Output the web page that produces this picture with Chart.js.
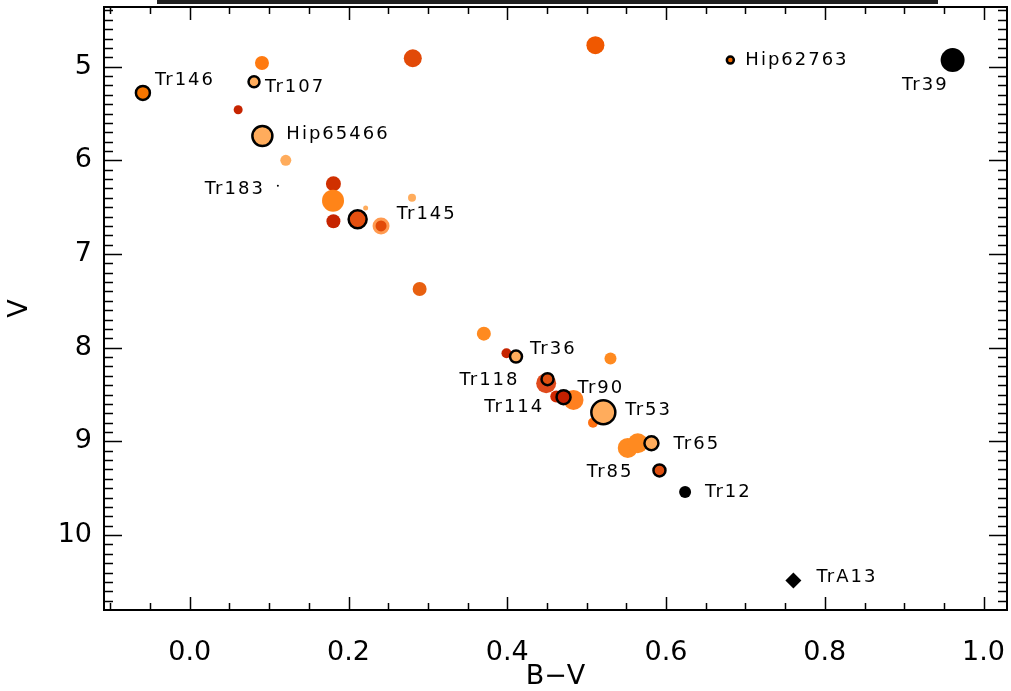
<!DOCTYPE html>
<html>
<head>
<meta charset="utf-8">
<script src="https://cdn.jsdelivr.net/npm/chart.js@4.4.0/dist/chart.umd.min.js"></script>
<style>
  body { margin: 0; background: #fff; }
  #wrap { position: relative; width: 1011px; height: 691px; }
  #bar { position: absolute; left: 157px; top: 0; width: 781px; height: 4px; background: #222; }
</style>
</head>
<body>
<div id="wrap">
  <canvas id="chart" width="1011" height="691"></canvas>
  <div id="bar"></div>
</div>
<script>
// B-V colour and V magnitude of each star
const bv = [0.091, 0.281, 0.511, 0.681, 0.961, -0.059, 0.081, 0.061, 0.0915, 0.121,
            0.111, 0.181, 0.1805, 0.181, 0.2216, 0.241, 0.2115, 0.280, 0.2896, 0.3705,
            0.399, 0.411, 0.530, 0.449, 0.4507, 0.4834, 0.4617, 0.4709, 0.508, 0.521,
            0.5518, 0.5644, 0.5816, 0.5917, 0.624, 0.7604];
const vmag = [4.96, 4.91, 4.77, 4.93, 4.93, 5.28, 5.16, 5.46, 5.74, 6.00,
              6.27, 6.25, 6.43, 6.65, 6.51, 6.70, 6.63, 6.40, 7.373, 7.85,
              8.06, 8.095, 8.116, 8.38, 8.336, 8.557, 8.52, 8.528, 8.80, 8.689,
              9.07, 9.02, 9.02, 9.31, 9.54, 10.486];
const names = ['', '', '', 'Hip62763', 'Tr39', 'Tr146', 'Tr107', '', 'Hip65466', '',
               'Tr183', '', '', '', '', '', 'Tr145', '', '', '',
               '', 'Tr36', '', '', 'Tr118', '', 'Tr114', 'Tr90', '', 'Tr53',
               '', '', 'Tr65', 'Tr85', 'Tr12', 'TrA13'];
const xTicks = [0.0, 0.2, 0.4, 0.6, 0.8, 1.0];
const yTicks = [5, 6, 7, 8, 9, 10];

// marker styles
const DR = '#c62400', RO = '#e24a08', OR = '#ff7a10', LO = '#ffac5c', BK = '#000000';
const fill = [OR, RO, '#f05800', '#f06a00', BK, '#f57500', LO, DR, LO, LO,
              BK, '#d03000', '#ff8418', DR, LO, RO, '#e65010', LO, '#e86010', '#ff8a20',
              DR, LO, '#ff8a20', '#e04a1c', '#e05010', '#ff8020', '#d02800', '#c42000', '#ff7010', LO,
              '#ff8a20', '#ff8a20', LO, '#e05010', BK, BK];
const size = [7, 9, 9, 3.5, 12, 7, 5.5, 4.5, 10, 5.5,
              1, 7.5, 11, 7, 2.5, 7, 9, 4, 7, 7,
              5, 6, 6, 10, 6, 10, 6, 7, 5, 12,
              10, 10, 7, 6, 6, 8];
const outlined = [0, 0, 0, 1, 0, 1, 1, 0, 1, 0,
                  0, 0, 0, 0, 0, 0, 1, 0, 0, 0,
                  0, 1, 0, 0, 1, 0, 0, 1, 0, 1,
                  0, 0, 1, 1, 0, 0];
const edge = fill.map((c, i) => outlined[i] ? '#000' : (i === 15 ? '#ff9a50' : c));
const edgeWidth = fill.map((c, i) => outlined[i] ? 2.5 : (i === 15 ? 3 : 0));
const shape = fill.map((c, i) => i === 35 ? 'rectRot' : 'circle');

// label placement relative to the marker
const labelDx = {Hip62763: 15, Tr39: -4, Tr146: 12, Tr107: 11, Hip65466: 24, Tr183: -13, Tr145: 39,
                 Tr36: 14, Tr118: -28, Tr114: -12, Tr90: 14, Tr53: 22, Tr65: 22, Tr85: -26, Tr12: 20, TrA13: 23};
const labelDy = {Hip62763: 0, Tr39: 25, Tr146: -13, Tr107: 6, Hip65466: -2, Tr183: 4, Tr145: -5,
                 Tr36: -7, Tr118: 1, Tr114: 11, Tr90: -9, Tr53: -2, Tr65: 1, Tr85: 2, Tr12: 0, TrA13: -3};
const rightAligned = ['Tr39', 'Tr183', 'Tr118', 'Tr114', 'Tr85'];

const points = bv.map((x, i) => ({x: x, y: vmag[i]}));

const frameTicks = {
  id: 'frameTicks',
  afterDraw(chart) {
    const {ctx, chartArea: a, scales: {x, y}} = chart;
    ctx.save();
    ctx.strokeStyle = '#000';
    ctx.lineWidth = 2;
    ctx.strokeRect(a.left, a.top, a.right - a.left, a.bottom - a.top);
    ctx.lineWidth = 1.5;
    ctx.beginPath();
    for (let i = -2; i <= 20; i++) {
      const px = Math.round(x.getPixelForValue(i * 0.05)) + 0.5;
      if (px < a.left || px > a.right) continue;
      const len = i % 4 === 0 ? 13 : 7;
      ctx.moveTo(px, a.bottom); ctx.lineTo(px, a.bottom - len);
      ctx.moveTo(px, a.top); ctx.lineTo(px, a.top + len);
    }
    for (let i = 44; i <= 108; i++) {
      const py = Math.round(y.getPixelForValue(i / 10)) + 0.5;
      if (py < a.top || py > a.bottom) continue;
      const len = i % 10 === 0 ? 18 : 9;
      ctx.moveTo(a.left, py); ctx.lineTo(a.left + len, py);
      ctx.moveTo(a.right, py); ctx.lineTo(a.right - len, py);
    }
    ctx.stroke();
    ctx.restore();
  }
};

const starLabels = {
  id: 'starLabels',
  afterDatasetsDraw(chart) {
    const ctx = chart.ctx;
    const meta = chart.getDatasetMeta(0);
    ctx.save();
    ctx.font = '18px "DejaVu Sans"';
    ctx.letterSpacing = '2px';
    ctx.fillStyle = '#000';
    ctx.textBaseline = 'middle';
    names.forEach((n, i) => {
      if (!n) return;
      const el = meta.data[i];
      ctx.textAlign = rightAligned.includes(n) ? 'right' : 'left';
      ctx.fillText(n, el.x + labelDx[n], el.y + labelDy[n]);
    });
    ctx.restore();
  }
};

const tickFont = {family: '"DejaVu Sans"', size: 27};

new Chart(document.getElementById('chart').getContext('2d'), {
  type: 'scatter',
  data: {
    datasets: [{
      data: points,
      pointBackgroundColor: fill,
      pointBorderColor: edge,
      pointBorderWidth: edgeWidth,
      pointRadius: size,
      pointStyle: shape
    }]
  },
  options: {
    responsive: false,
    animation: false,
    events: [],
    layout: {autoPadding: false, padding: {top: 7, right: 4, left: 0, bottom: 0}},
    plugins: {legend: {display: false}, tooltip: {enabled: false}},
    scales: {
      x: {
        type: 'linear',
        min: -0.108,
        max: 1.0295,
        afterBuildTicks: s => { s.ticks = xTicks.map(v => ({value: v})); },
        afterFit: s => { s.height = 81; s.paddingLeft = 0; s.paddingRight = 0; },
        grid: {display: false, drawTicks: false},
        border: {display: false},
        ticks: {color: '#000', font: tickFont, padding: 27, maxRotation: 0,
                callback: v => v.toFixed(1)},
        title: {display: true, text: 'B\u2212V', color: '#000', font: tickFont,
                padding: {top: 0, bottom: -2}}
      },
      y: {
        type: 'linear',
        reverse: true,
        min: 4.363,
        max: 10.80,
        afterBuildTicks: s => { s.ticks = yTicks.map(v => ({value: v})); },
        afterFit: s => { s.width = 104; s.paddingTop = 0; s.paddingBottom = 0; },
        grid: {display: false, drawTicks: false},
        border: {display: false},
        ticks: {color: '#000', font: tickFont, padding: 12,
                callback: v => String(v)},
        title: {display: true, text: 'V', color: '#000', font: tickFont,
                padding: {top: 4, bottom: 0}}
      }
    }
  },
  plugins: [frameTicks, starLabels]
});
</script>
</body>
</html>
